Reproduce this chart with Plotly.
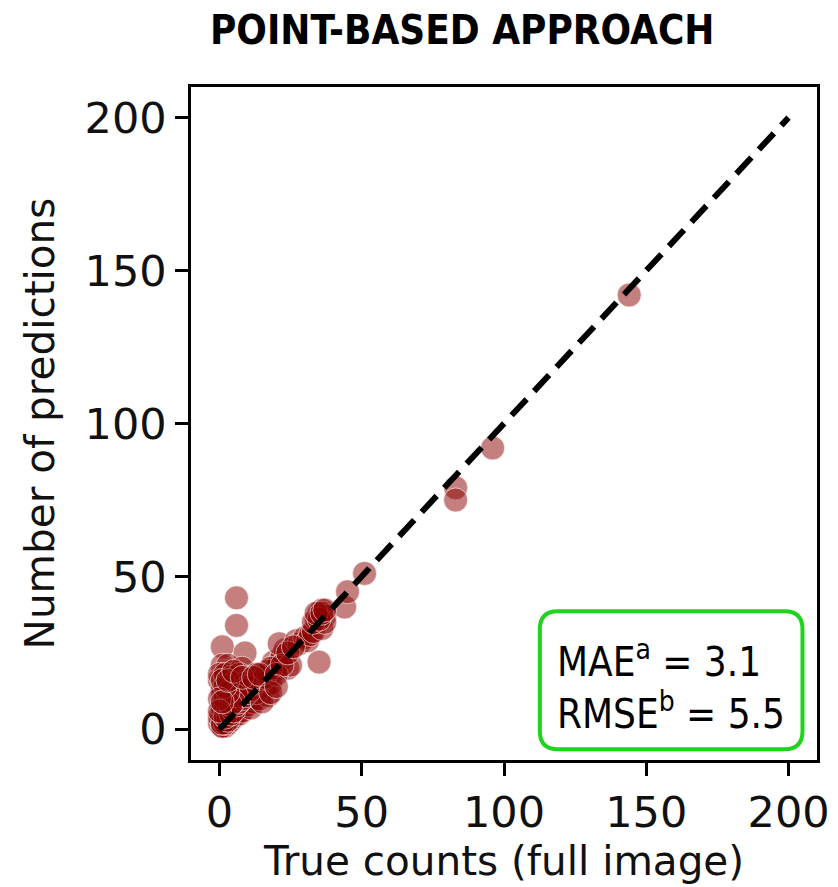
import plotly.graph_objects as go

# Data
true_counts = [1, 1, 2, 2, 2, 3, 3, 3, 4, 4, 5, 1, 2, 1, 0, 0, 1, 2, 3, 4, 5, 6, 6, 7, 7, 8, 8, 9, 10, 10,
               11, 12, 12, 13, 14, 15, 16, 17, 18, 19, 20, 11, 14, 17, 12, 13, 10, 15, 16, 18, 19, 21, 22, 23,
               24, 25, 21, 27, 28, 30, 31, 32, 33, 34, 35, 36, 37, 36, 37, 35, 44, 45, 51, 83, 83, 96, 144,
               6, 6, 1, 9, 1, 3, 0, 2, 11, 7, 13, 1, 1, 0, 2, 4, 5, 3, 2, 4, 6, 5, 8, 7,
               1, 2, 1, 3, 2, 4, 5, 6, 7, 8, 9, 10, 11, 12, 14, 15, 16, 17, 18, 13, 9, 8, 10, 6, 5, 4,
               3, 2, 1, 0, 0, 1, 3, 5, 8, 12, 14, 20, 22, 24, 26, 33, 35, 34, 36, 37, 15, 18, 20]
predictions = [1, 2, 1, 2, 3, 2, 3, 4, 3, 4, 5, 3, 5, 5, 2, 4, 7, 7, 6, 6, 4, 6, 5, 7, 5, 8, 6, 9, 8, 10,
               11, 12, 9, 13, 12, 15, 14, 17, 18, 19, 20, 7, 10, 11, 14, 16, 16, 16, 18, 15, 22, 22, 24, 26,
               20, 21, 28, 29, 28, 30, 29, 31, 32, 36, 38, 39, 37, 33, 35, 22, 40, 45, 51, 79, 75, 92, 142,
               43, 34, 27, 25, 21, 21, 16, 15, 16, 12, 12, 11, 13, 18, 18, 17, 13, 9, 10, 11, 9, 15, 20, 18,
               1, 2, 2, 3, 4, 5, 6, 8, 9, 10, 11, 12, 13, 15, 16, 18, 17, 19, 20, 18, 15, 13, 14, 11, 9, 8,
               12, 14, 16, 10, 6, 9, 16, 19, 17, 17, 18, 18, 21, 25, 27, 35, 36, 38, 38, 39, 9, 12, 14]
identity_x = [0, 200]
identity_y = [0, 200]
x_ticks = [0, 50, 100, 150, 200]
y_ticks = [0, 50, 100, 150, 200]
mae_value = 3.1
rmse_value = 5.5

fig = go.Figure()
fig.add_trace(go.Scatter(
    x=true_counts, y=predictions, mode="markers",
    marker=dict(size=24, color="rgba(139,0,0,0.5)",
                line=dict(color="rgba(255,255,255,0.6)", width=1)),
    showlegend=False, hoverinfo="x+y"))
fig.add_trace(go.Scatter(
    x=identity_x, y=identity_y, mode="lines",
    line=dict(color="black", width=6, dash="22px,11px"),
    showlegend=False, hoverinfo="skip"))

# rounded box for metrics (data coordinates)
x0, x1, y0, y1 = 112.6, 204.9, -6.5, 38.6
rx, ry = 6.3, 5.9
path = (f"M {x0+rx},{y0} L {x1-rx},{y0} Q {x1},{y0} {x1},{y0+ry} "
        f"L {x1},{y1-ry} Q {x1},{y1} {x1-rx},{y1} L {x0+rx},{y1} "
        f"Q {x0},{y1} {x0},{y1-ry} L {x0},{y0+ry} Q {x0},{y0} {x0+rx},{y0} Z")
fig.add_shape(type="path", path=path, xref="x", yref="y",
              line=dict(color="#1ed41e", width=4), fillcolor="white", layer="above")

narrow = "DejaVu Sans Condensed, Liberation Sans Narrow, sans-serif"
fig.add_annotation(
    x=117.9, y=14.5, xref="x", yref="y", xanchor="left", yanchor="middle", align="left",
    text=f"MAE<sup>a</sup> = {mae_value}<br>RMSE<sup>b</sup> = {rmse_value}",
    showarrow=False, font=dict(family=narrow, size=40, color="black"))

axis_common = dict(
    showline=True, mirror=True, linecolor="black", linewidth=2.5,
    ticks="outside", ticklen=13, tickwidth=2.5, tickcolor="black",
    showgrid=False, zeroline=False,
    tickfont=dict(family="DejaVu Sans", size=43, color="#111"),
    title_font=dict(family="DejaVu Sans", size=40.5, color="#111"),
)
fig.update_xaxes(range=[-10, 210], tickvals=x_ticks,
                 title_text="True counts (full image)", title_standoff=10, **axis_common)
fig.update_yaxes(range=[-10, 210], tickvals=y_ticks,
                 title_text="Number of predictions", title_standoff=18, **axis_common)

fig.update_layout(
    width=838, height=887,
    margin=dict(l=183, r=29, t=79, b=135),
    paper_bgcolor="white", plot_bgcolor="white",
    title=dict(text="<b>POINT-BASED APPROACH</b>", x=0.542, xanchor="center",
               y=1 - 22 / 887, yanchor="middle", yref="container",
               font=dict(family=narrow, size=40, color="black")),
)

fig.write_html("out.html")
